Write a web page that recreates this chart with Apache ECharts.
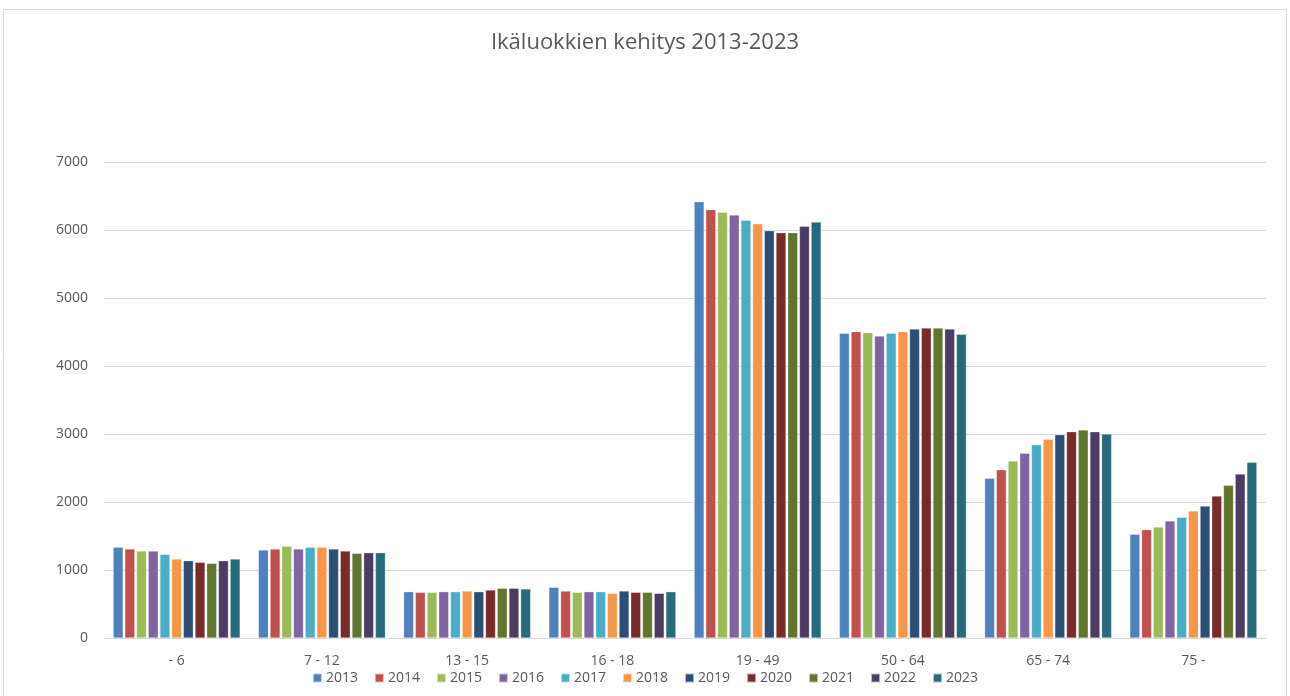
<!DOCTYPE html>
<html>
<head>
<meta charset="utf-8">
<title>Ikäluokkien kehitys 2013-2023</title>
<script src="https://cdn.jsdelivr.net/npm/echarts@6/dist/echarts.min.js"></script>
<style>
  html, body { margin: 0; padding: 0; background: #fff; }
  #chart { width: 1290px; height: 696px; }
</style>
</head>
<body>
<div id="chart"></div>
<script>
// ikäluokat
const categories = ['- 6', '7 - 12', '13 - 15', '16 - 18', '19 - 49', '50 - 64', '65 - 74', '75 -']
const years = ['2013', '2014', '2015', '2016', '2017', '2018', '2019', '2020', '2021', '2022', '2023']
const yTicks = [0, 1000, 2000, 3000, 4000, 5000, 6000, 7000]

// arvot vuosittain, järjestys kuten categories
const v2013 = [1334, 1294, 681, 745, 6417, 4480, 2348, 1525]
const v2014 = [1309, 1309, 672, 691, 6299, 4505, 2475, 1593]
const v2015 = [1279, 1348, 672, 672, 6260, 4490, 2603, 1632]
const v2016 = [1279, 1309, 681, 681, 6221, 4441, 2716, 1721]
const v2017 = [1230, 1334, 681, 681, 6142, 4480, 2843, 1775]
const v2018 = [1162, 1334, 691, 657, 6093, 4505, 2922, 1868]
const v2019 = [1137, 1309, 681, 691, 5990, 4544, 2990, 1941]
const v2020 = [1113, 1279, 706, 672, 5961, 4559, 3034, 2088]
const v2021 = [1098, 1245, 731, 672, 5961, 4559, 3059, 2245]
const v2022 = [1137, 1255, 731, 657, 6054, 4544, 3034, 2412]
const v2023 = [1162, 1255, 721, 681, 6118, 4466, 3000, 2583]
const values = [v2013, v2014, v2015, v2016, v2017, v2018, v2019, v2020, v2021, v2022, v2023]

const colors = ['#4F81BD', '#C0504D', '#9BBB59', '#8064A2', '#4BACC6', '#F79646',
  '#2C4D75', '#772C2A', '#5F7530', '#4D3B62', '#276A7C']

const chart = echarts.init(document.getElementById('chart'))

const font = '"Open Sans", "Liberation Sans", sans-serif'

chart.setOption({
  backgroundColor: '#fff',
  animation: false,
  color: colors,
  title: {
    text: 'Ikäluokkien kehitys 2013-2023',
    left: 'center',
    top: 27,
    textStyle: { color: '#595959', fontSize: 22, fontWeight: 'normal', fontFamily: font }
  },
  graphic: [{
    type: 'rect',
    shape: { x: 3.5, y: 9.5, width: 1283, height: 720 },
    style: { fill: 'none', stroke: '#d9d9d9', lineWidth: 1 },
    silent: true
  }],
  legend: {
    data: years,
    bottom: 6,
    left: 'center',
    icon: 'rect',
    itemWidth: 9,
    itemHeight: 9,
    itemGap: 16,
    textStyle: { color: '#595959', fontSize: 14, fontFamily: font, padding: [0, 0, 0, -1] }
  },
  grid: { left: 104, right: 24, top: 162, bottom: 58 },
  xAxis: {
    type: 'category',
    data: categories,
    axisLine: { lineStyle: { color: '#d9d9d9', width: 1 } },
    axisTick: { show: false },
    axisLabel: { color: '#595959', fontSize: 14, fontFamily: font, margin: 16 }
  },
  yAxis: {
    type: 'value',
    min: yTicks[0],
    max: yTicks[yTicks.length - 1],
    interval: 1000,
    axisLine: { show: false },
    axisTick: { show: false },
    axisLabel: { color: '#595959', fontSize: 14, fontFamily: font, margin: 16, formatter: v => String(v) },
    splitLine: { lineStyle: { color: '#d9d9d9', width: 1 } }
  },
  series: years.map((y, i) => ({
    name: y,
    type: 'bar',
    data: values[i],
    barWidth: 10,
    barGap: '17%',
    itemStyle: { borderColor: 'rgba(255,255,255,0.6)', borderWidth: 0.5 }
  }))
})

window.addEventListener('resize', () => chart.resize())
</script>
</body>
</html>
